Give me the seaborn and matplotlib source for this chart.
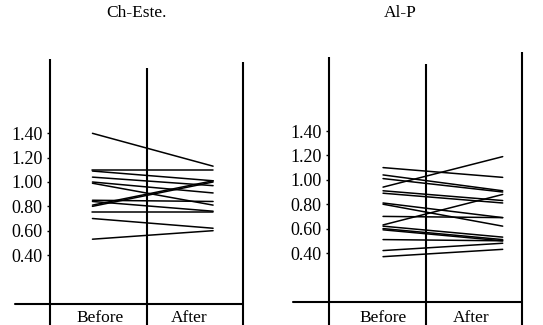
import matplotlib
matplotlib.use("Agg")
import matplotlib.pyplot as plt
import seaborn as sns
import pandas as pd

# ---- data ----
titles = ["Ch-Este.", "Al-P"]
phases = ["Before", "After"]
ytick_values = [0.40, 0.60, 0.80, 1.00, 1.20, 1.40]
ytick_labels = ["0.40", "0.60", "0.80", "1.00", "1.20", "1.40"]

chol_before = [1.40, 1.10, 1.09, 1.04, 1.00, 0.99, 0.85, 0.84, 0.81, 0.80, 0.75, 0.70, 0.53]
chol_after = [1.13, 1.10, 1.01, 0.97, 0.91, 0.81, 0.84, 0.76, 1.01, 1.00, 0.75, 0.62, 0.60]

alp_before = [1.10, 1.04, 1.01, 0.94, 0.91, 0.89, 0.81, 0.80, 0.70, 0.63, 0.62, 0.60, 0.59, 0.51, 0.42, 0.37]
alp_after = [1.02, 0.91, 0.90, 1.19, 0.83, 0.81, 0.69, 0.62, 0.69, 0.88, 0.53, 0.51, 0.50, 0.50, 0.48, 0.43]


def long_form(before, after):
    rows = []
    for i, (b, a) in enumerate(zip(before, after)):
        rows.append({"subject": i, "phase": phases[0], "value": b})
        rows.append({"subject": i, "phase": phases[1], "value": a})
    return pd.DataFrame(rows)


panels = [long_form(chol_before, chol_after), long_form(alp_before, alp_after)]

sns.set_theme(style="white")
plt.rcParams["font.family"] = ["Liberation Serif", "DejaVu Serif"]

fig = plt.figure(figsize=(5.43, 3.25), dpi=100)
fig.patch.set_facecolor("white")

# layout / style settings (not data)
axes_rects = [[50 / 543, 21.3 / 325, 193 / 543, 243.4 / 325],
              [329 / 543, 23.2 / 325, 193 / 543, 244 / 325]]
phase_x = [{"Before": 0.44, "After": 1.69}, {"Before": 0.56, "After": 1.80}]
label_x = [(0.52, 1.44), (0.56, 1.47)]
label_y = [-0.05, -0.065]
vline_tops = [(2.01, 1.94, 1.99), (2.01, 1.95, 2.05)]
base_left = [-0.36, -0.37]
title_pos = [(136 / 543, 1 - 13 / 325), (400 / 543, 1 - 13 / 325)]

for k, df in enumerate(panels):
    ax = fig.add_axes(axes_rects[k])
    ax.set_facecolor("none")
    d = df.copy()
    d["x"] = d["phase"].map(phase_x[k])
    sns.lineplot(data=d, x="x", y="value", units="subject", estimator=None,
                 color="black", lw=1.1, ax=ax, legend=False)
    ax.set_xlim(0, 2)
    ax.set_ylim(0, 2)
    for s in ax.spines.values():
        s.set_visible(False)
    # frame lines
    for xv, top in zip([0, 1, 2], vline_tops[k]):
        ax.plot([xv, xv], [-0.4, top], color="black", lw=1.5, clip_on=False,
                solid_capstyle="butt")
    ax.plot([base_left[k], 2], [0, 0], color="black", lw=1.5, clip_on=False)
    ax.set_xticks([])
    ax.set_xlabel("")
    ax.set_ylabel("")
    ax.set_yticks(ytick_values)
    ax.set_yticklabels(ytick_labels, fontsize=13)
    ax.tick_params(axis="y", direction="out", length=2.5, width=1.0,
                   color="black", pad=3, labelcolor="black", left=True)
    for name, lx in zip(phases, label_x[k]):
        ax.text(lx, label_y[k], name, ha="center", va="top", fontsize=12.5,
                color="black", clip_on=False)
    fig.text(title_pos[k][0], title_pos[k][1], titles[k], ha="center",
             va="center", fontsize=12.5, color="black")

fig.savefig("out.png", dpi=100, facecolor="white")
